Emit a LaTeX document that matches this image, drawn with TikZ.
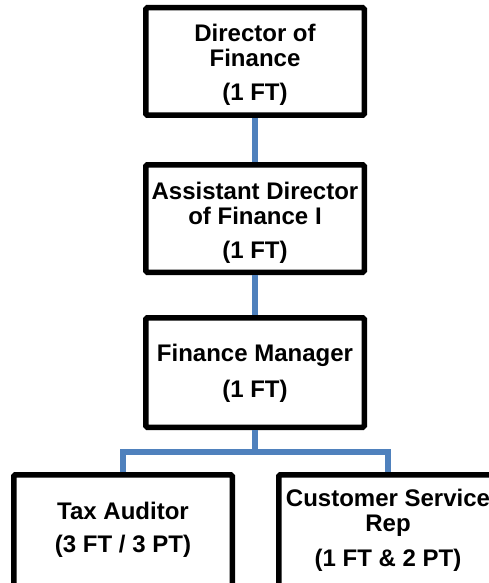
\documentclass[tikz,border=0pt]{standalone}
\usepackage{fontspec}
\setmainfont{Liberation Sans}
\definecolor{connblue}{RGB}{79,129,189}
\newcommand{\boxlines}[2]{\raisebox{#1}[\height][\depth]{\begin{tabular}{@{}c@{}}#2\end{tabular}}}
\begin{document}
\begin{tikzpicture}[x=1pt,y=-1pt,
  orgbox/.style={draw=black, line width=5.5pt, fill=white, rounded corners=1.5pt,
    minimum width=218.5pt, minimum height=107.5pt, inner sep=0pt,
    font=\fontsize{24}{25}\selectfont\bfseries},
  conn/.style={draw=connblue, line width=6pt}]
\useasboundingbox (0,0) rectangle (489,583);
\coordinate (bar) at (255,452);
\node[orgbox] (b1) at (255,61.5) {\boxlines{-4.6pt}{Director of\\Finance\\[9pt](1 FT)}};
\node[orgbox] (b2) at (255,218.5) {\boxlines{-5pt}{Assistant Director\\of Finance I\\[9pt](1 FT)}};
\node[orgbox, minimum height=109.5pt] (b3) at (255,372.5) {\boxlines{-2pt}{Finance Manager\\[11pt](1 FT)}};
\node[orgbox, minimum height=114.5pt] (b4) at (123,532) {\boxlines{1pt}{Tax Auditor\\[8pt](3 FT / 3 PT)}};
\node[orgbox, minimum height=114.5pt] (b5) at (388,532) {\boxlines{0.5pt}{Customer Service\\Rep\\[10pt](1 FT \& 2 PT)}};
\draw[conn] (b1.south) -- (b2.north);
\draw[conn] (b2.south) -- (b3.north);
\draw[conn] (b3.south) -- (bar);
\draw[conn] (b4.north) -- (b4.north |- bar) -- (b5.north |- bar) -- (b5.north);
\end{tikzpicture}
\end{document}
